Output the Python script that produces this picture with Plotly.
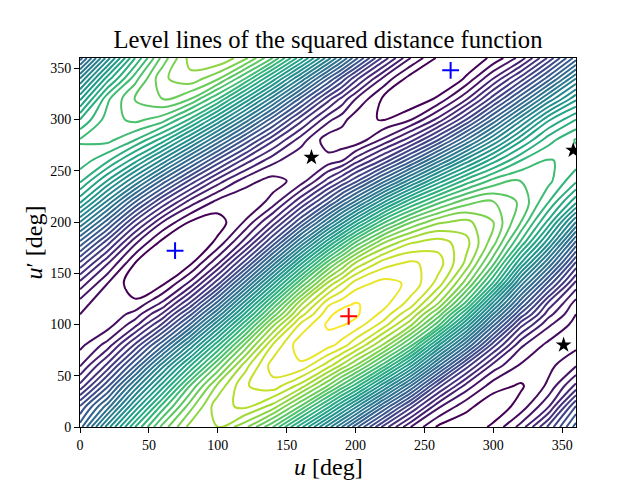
import plotly.graph_objects as go

# contour levels are in level-line units, read by counting lines on the picture
u_deg = [0, 20, 40, 60, 80, 100, 120, 140, 160, 180, 190, 200, 220, 240, 260, 280, 300, 320, 340, 360]
up_deg = [0, 20, 40, 60, 80, 100, 110, 120, 140, 160, 180, 200, 220, 240, 260, 280, 300, 320, 340, 360]

dist_levels = [
    [11.5, 17.5, 23.0, 27.4, 30.4, 31.0, 29.3, 26.0, 21.4, 16.5, 14.0, 11.4, 6.7, 3.0, 0.8, 0.3, 1.2, 3.4, 7.2, 11.5],
    [9.1, 13.5, 19.2, 24.5, 28.6, 31.7, 32.2, 30.6, 26.9, 22.3, 19.8, 17.3, 12.1, 7.3, 3.2, 1.3, 0.3, 1.4, 3.9, 9.1],
    [5.3, 9.8, 15.3, 20.6, 26.1, 30.3, 32.9, 33.6, 31.6, 27.9, 25.7, 23.5, 18.3, 13.0, 7.4, 3.6, 1.4, 0.85, 2.2, 5.3],
    [2.9, 6.3, 11.0, 16.6, 21.9, 27.1, 31.6, 34.5, 34.8, 32.5, 30.8, 29.0, 24.6, 19.3, 13.2, 7.6, 3.6, 1.85, 1.7, 2.9],
    [1.7, 3.4, 7.2, 11.8, 17.2, 22.8, 28.3, 33.1, 35.7, 35.4, 34.6, 33.2, 29.9, 25.4, 19.2, 13.3, 7.4, 3.2, 1.7, 1.7],
    [1.6, 1.5, 3.6, 7.2, 12.1, 17.9, 23.8, 29.7, 34.2, 36.2, 36.1, 35.7, 33.6, 30.3, 25.4, 19.0, 12.3, 6.4, 3.2, 1.6],
    [2.0, 1.2, 2.4, 5.2, 9.7, 15.2, 21.3, 27.3, 32.5, 35.7, 36.5, 36.2, 34.7, 32.0, 27.7, 21.8, 14.9, 8.7, 4.4, 2.0],
    [2.5, 1.0, 1.25, 3.3, 7.3, 12.6, 18.8, 25.0, 30.8, 34.8, 35.6, 36.1, 35.4, 33.5, 29.9, 24.6, 17.5, 11.0, 5.6, 2.5],
    [4.6, 2.0, 0.3, 0.8, 3.3, 7.7, 13.5, 19.8, 26.0, 31.3, 33.0, 34.5, 35.4, 34.8, 32.6, 28.5, 22.8, 15.5, 9.6, 4.6],
    [7.8, 4.1, 1.0, -0.2, 0.75, 3.8, 8.5, 14.4, 20.6, 26.5, 28.9, 31.1, 33.5, 34.2, 33.5, 30.8, 26.3, 20.0, 14.0, 7.8],
    [11.7, 7.4, 3.2, 0.6, -0.1, 1.25, 4.5, 9.3, 15.0, 20.8, 23.5, 26.1, 29.9, 31.9, 32.5, 31.4, 28.4, 23.8, 18.3, 11.7],
    [16.0, 11.5, 6.7, 3.0, 0.9, 0.5, 2.1, 5.3, 9.8, 14.9, 17.5, 20.1, 24.7, 27.9, 29.8, 30.3, 29.0, 26.0, 21.7, 16.0],
    [20.3, 15.8, 11.1, 6.9, 3.6, 1.7, 1.2, 2.3, 5.7, 9.6, 11.9, 14.1, 18.7, 22.7, 25.6, 27.5, 28.0, 26.8, 24.1, 20.3],
    [23.2, 19.9, 15.9, 11.6, 7.7, 4.5, 2.4, 1.6, 2.4, 5.4, 7.0, 8.7, 12.6, 16.6, 20.4, 23.4, 25.4, 26.1, 25.3, 23.2],
    [24.6, 23.2, 20.4, 16.7, 12.6, 8.7, 5.5, 3.3, 2.15, 2.4, 2.9, 4.5, 7.2, 10.7, 14.6, 18.4, 21.6, 24.0, 25.1, 24.6],
    [25.1, 25.3, 24.0, 21.5, 17.8, 13.7, 9.7, 6.2, 3.5, 1.4, 1.3, 1.2, 3.2, 5.6, 9.0, 13.0, 17.0, 20.8, 23.6, 25.1],
    [23.0, 25.5, 26.3, 25.5, 22.8, 18.9, 14.7, 10.4, 6.4, 3.3, 2.4, 1.4, 0.9, 1.9, 4.3, 7.9, 12.2, 16.7, 20.8, 23.0],
    [19.8, 24.8, 27.1, 28.0, 27.0, 24.0, 19.8, 15.4, 10.7, 6.4, 4.7, 3.0, 0.8, 0.15, 1.2, 3.8, 7.6, 11.8, 16.3, 19.8],
    [16.0, 21.5, 25.6, 28.8, 29.7, 28.2, 25.0, 20.6, 15.9, 11.0, 8.7, 6.4, 2.8, 0.5, -0.1, 1.1, 4.0, 7.4, 11.5, 16.0],
    [11.5, 17.5, 23.0, 27.4, 30.4, 31.0, 29.3, 26.0, 21.4, 16.5, 14.0, 11.4, 6.7, 3.0, 0.8, 0.3, 1.2, 3.4, 7.2, 11.5],
]

min_u = [69, 269]
min_up = [172, 348]
max_u = [195]
max_up = [108]
saddle_u = [168, 351, 358]
saddle_up = [263, 80, 270]

SERIF = "Liberation Serif"

fig = go.Figure()

fig.add_trace(go.Contour(x=u_deg, y=up_deg, z=dist_levels,
                         colorscale="Viridis", zmin=0, zmax=37,
                         autocontour=False,
                         contours=dict(start=1, end=36, size=1, coloring="lines"),
                         line=dict(width=2, smoothing=1),
                         showscale=False))

fig.add_trace(go.Scatter(x=saddle_u, y=saddle_up, mode="markers",
                         marker=dict(symbol="star", size=12, color="black")))
fig.add_trace(go.Scatter(x=min_u, y=min_up, mode="markers",
                         marker=dict(symbol="cross-thin", size=12, line=dict(color="blue", width=2))))
fig.add_trace(go.Scatter(x=max_u, y=max_up, mode="markers",
                         marker=dict(symbol="cross-thin", size=12, line=dict(color="red", width=2))))

axis_style = dict(range=[0, 360], tick0=0, dtick=50, ticks="outside", ticklen=5, tickwidth=1,
                  tickcolor="black", linecolor="black", linewidth=1, mirror=True,
                  showgrid=False, zeroline=False, automargin=False,
                  tickfont=dict(family=SERIF, size=14, color="black"))

fig.update_xaxes(**axis_style)
fig.update_yaxes(**axis_style)

# axis titles as annotations, a title with standoff pushes the margins around
label_font = dict(family=SERIF, size=24, color="black")
fig.add_annotation(text="<i>u</i> [deg]", xref="paper", yref="paper", x=0.5, y=0,
                   yshift=-40, yanchor="middle", showarrow=False, font=label_font)
fig.add_annotation(text="<i>u</i>′ [deg]", xref="paper", yref="paper", x=0, y=0.5,
                   xshift=-47, xanchor="center", textangle=-90, showarrow=False, font=label_font)

# the page body adds 8px around the figure, so margins are shifted to land on the same frame
fig.update_layout(width=640, height=480, autosize=False,
                  margin=dict(l=72, r=72, t=50, b=61),
                  plot_bgcolor="white", paper_bgcolor="white",
                  showlegend=False,
                  title=dict(text="Level lines of the squared distance function",
                             font=dict(family=SERIF, size=24.6, color="black"),
                             x=0.5, xanchor="center", y=0.935, yanchor="middle"))

fig.write_html("out.html")
